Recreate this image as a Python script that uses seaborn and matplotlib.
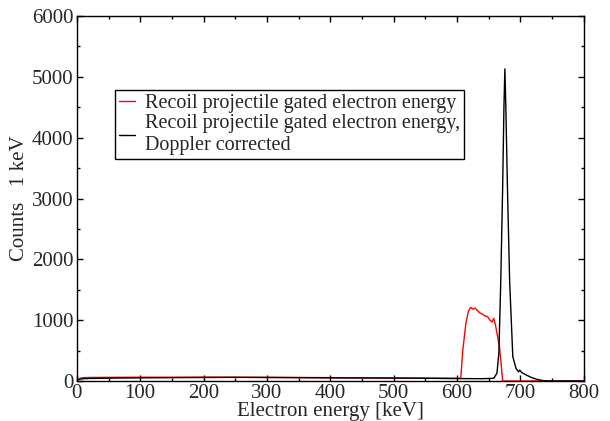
import matplotlib
matplotlib.use('Agg')
import matplotlib.pyplot as plt
from matplotlib.lines import Line2D
from matplotlib.ticker import MultipleLocator
import seaborn as sns
import pandas as pd

# red: recoil projectile gated electron energy
red_kev = [0, 5, 10, 20, 50, 100, 150, 200, 250, 300, 350, 400, 450, 500, 550, 600,
           604, 606, 609, 614, 618, 622, 625, 628, 632, 636, 640, 644, 648, 652,
           655, 658, 661, 664, 667, 670, 672, 680, 800]
red_counts = [15, 45, 55, 58, 60, 62, 62, 63, 62, 60, 58, 55, 52, 50, 47, 45,
              45, 60, 500, 950, 1150, 1210, 1180, 1200, 1160, 1120, 1100, 1070, 1060, 1000,
              970, 1030, 900, 730, 560, 235, 0, 0, 0]

# black: Doppler corrected
black_kev = [0, 5, 10, 20, 40, 60, 100, 150, 200, 250, 300, 350, 400, 450, 500, 550,
             600, 640, 658, 663, 666, 669, 672, 674, 675.5, 677, 679.5, 683, 688, 693,
             697, 699, 702, 709, 717, 725, 735, 745, 800]
black_counts = [10, 30, 38, 42, 45, 48, 52, 55, 58, 60, 58, 55, 52, 50, 48, 45,
                40, 38, 45, 130, 460, 1640, 3200, 4500, 5130, 4500, 3200, 1640, 400, 210,
                150, 180, 140, 100, 60, 30, 8, 0, 0]

labels = ['Recoil projectile gated electron energy',
          'Recoil projectile gated electron energy,\nDoppler corrected']
colors = ['red', 'black']

sns.set_style('ticks')
plt.rcParams['font.family'] = ['Liberation Serif', 'DejaVu Serif']

df = pd.concat([
    pd.DataFrame({'energy': red_kev, 'counts': red_counts, 'series': labels[0]}),
    pd.DataFrame({'energy': black_kev, 'counts': black_counts, 'series': labels[1]}),
])

fig = plt.figure(figsize=(6.1, 4.21), dpi=100)
ax = fig.add_axes([0.126, 0.095, 0.831, 0.867])

sns.lineplot(data=df, x='energy', y='counts', hue='series', palette=colors,
             linewidth=1.0, legend=False, ax=ax, sort=False, estimator=None)

ax.set_xlim(0, 800)
ax.set_ylim(0, 6000)
ax.xaxis.set_major_locator(MultipleLocator(100))
ax.xaxis.set_minor_locator(MultipleLocator(50))
ax.yaxis.set_major_locator(MultipleLocator(1000))
ax.yaxis.set_minor_locator(MultipleLocator(500))
ax.tick_params(which='both', direction='in', top=True, right=True, labelsize=15,
               pad=2.5, color='black', width=1)
ax.tick_params(which='major', length=4.5)
ax.tick_params(which='minor', length=2.5)
for s in ax.spines.values():
    s.set_linewidth(1.0)
    s.set_color('black')

ax.set_xlabel('Electron energy [keV]', fontsize=15, labelpad=-1)
ax.set_ylabel('Counts   1 keV', fontsize=15, labelpad=2)

handles = [Line2D([], [], color=c, linewidth=1.0) for c in colors]
leg = ax.legend(handles, labels, loc='upper left', bbox_to_anchor=(0.075, 0.797),
                fontsize=14.5, frameon=True, fancybox=False, shadow=False,
                handlelength=0.8, handletextpad=0.5, borderpad=0.2,
                labelspacing=0.05, borderaxespad=0)
leg.get_frame().set_edgecolor('black')
leg.get_frame().set_linewidth(1.0)
leg.get_frame().set_alpha(1)

fig.savefig('out.png', dpi=100)
